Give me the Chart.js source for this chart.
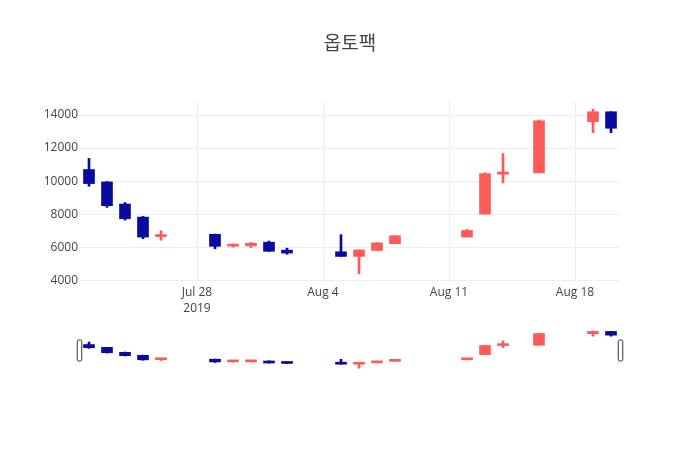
<!DOCTYPE html>
<html><head><meta charset="utf-8">
<script src="https://cdn.jsdelivr.net/npm/chart.js@4.4.0/dist/chart.umd.min.js"></script>
<style>html,body{margin:0;padding:0;background:#fff}#wrap{position:relative;width:700px;height:450px}canvas{position:absolute;left:0;top:0}</style>
</head><body><div id="wrap"><canvas id="main" width="700" height="450"></canvas><canvas id="slider" width="700" height="450"></canvas></div>
<script>
const chartTitle = '옵토팩';
const dates = ['2019-07-22','2019-07-23','2019-07-24','2019-07-25','2019-07-26',
  '2019-07-29','2019-07-30','2019-07-31','2019-08-01','2019-08-02',
  '2019-08-05','2019-08-06','2019-08-07','2019-08-08',
  '2019-08-12','2019-08-13','2019-08-14','2019-08-16','2019-08-19','2019-08-20'];
const opens  = [10700, 9950, 8610, 7820, 6640, 6780, 6060, 6080, 6300, 5820, 5720, 5440, 5800, 6210, 6610, 8000, 10420, 10500, 13600, 14200];
const highs  = [11370, 9970, 8700, 7860, 7000, 6790, 6200, 6280, 6370, 5940, 6760, 5840, 6270, 6700, 7070, 10500, 11670, 13700, 14350, 14200];
const lows   = [9690, 8410, 7640, 6510, 6420, 5900, 6000, 5980, 5740, 5570, 5430, 4390, 5800, 6210, 6610, 8000, 9890, 10500, 12930, 12930];
const closes = [9850, 8510, 7720, 6610, 6730, 6050, 6150, 6240, 5750, 5640, 5440, 5830, 6260, 6690, 7010, 10450, 10550, 13650, 14200, 13200];
const yTicks = [4000, 6000, 8000, 10000, 12000, 14000];
const xTickDates = ['2019-07-28','2019-08-04','2019-08-11','2019-08-18'];
const xTickLabels = [['Jul 28','2019'],['Aug 4'],['Aug 11'],['Aug 18']];
const yMin = 3890, yMax = 14850;

function day(s){ return Date.parse(s + 'T00:00:00Z') / 86400000; }
const xs = dates.map(day);
const colors = opens.map((o,i) => closes[i] >= o ? '#FF5A5A' : '#0A0A9E');
const xMin = xs[0] - 0.5, xMax = xs[xs.length-1] + 0.5;

function makeDatasets(){
  return [
    {data: xs.map((x,i)=>({x:x, y:[opens[i], closes[i]]})), backgroundColor: colors, barThickness: 11, minBarLength: 2, grouped: false, borderWidth: 0},
    {data: xs.map((x,i)=>({x:x, y:[lows[i], highs[i]]})), backgroundColor: colors, barThickness: 2, grouped: false, borderWidth: 0}
  ];
}

new Chart(document.getElementById('main'), {
  type: 'bar',
  data: {datasets: makeDatasets()},
  options: {
    responsive: false, animation: false,
    layout: {padding: {left: 40, right: 40, top: 0, bottom: 0}},
    plugins: {
      legend: {display: false}, tooltip: {enabled: false},
      title: {display: true, text: chartTitle, color: '#444',
        font: {family: "'Noto Sans CJK KR', 'Open Sans', sans-serif", size: 19, weight: 'normal', lineHeight: 1.2},
        padding: {top: 31, bottom: 47.2}}
    },
    scales: {
      x: {type: 'linear', min: xMin, max: xMax, offset: false,
        grid: {offset: false, color: '#eee', drawTicks: false}, border: {display: false},
        afterBuildTicks: s => { s.ticks = xTickDates.map(d => ({value: day(d)})); },
        ticks: {callback: (v,i) => xTickLabels[i], color: '#444', font: {family: "'Open Sans'", size: 12, lineHeight: 1.35}, padding: 2, maxRotation: 0, autoSkip: false},
        afterFit: s => { s.height = 168; }},
      y: {min: yMin, max: yMax, beginAtZero: false,
        grid: {color: '#eee', drawTicks: false}, border: {display: false},
        afterBuildTicks: s => { s.ticks = yTicks.map(v => ({value: v})); },
        ticks: {callback: v => String(v), color: '#444', font: {family: "'Open Sans'", size: 12}, padding: 2},
        afterFit: s => { s.width = 40; }},
      yR: {position: 'right', min: yMin, max: yMax, grid: {display: false}, border: {display: false},
        ticks: {display: false}, afterFit: s => { s.width = 40; }}
    }
  }
});

const handles = {
  id: 'handles',
  afterDraw(chart){
    const ctx = chart.ctx, a = chart.chartArea;
    const cy = (a.top + a.bottom) / 2 + 1, h = 21, w = 4.5;
    ctx.save();
    ctx.fillStyle = '#fff'; ctx.strokeStyle = '#333'; ctx.lineWidth = 1;
    [a.left - 0.5, a.right + 0.5].forEach(cx => {
      ctx.beginPath();
      ctx.roundRect(cx - w/2, cy - h/2, w, h, 1.5);
      ctx.fill(); ctx.stroke();
    });
    ctx.restore();
  }
};

new Chart(document.getElementById('slider'), {
  type: 'bar',
  data: {datasets: makeDatasets()},
  options: {
    responsive: false, animation: false,
    layout: {padding: {left: 80, right: 80, top: 329, bottom: 80}},
    plugins: {legend: {display: false}, tooltip: {enabled: false}},
    scales: {
      x: {type: 'linear', min: xMin, max: xMax, offset: false, display: false, grid: {offset: false}},
      y: {min: yMin, max: yMax, beginAtZero: false, display: false}
    }
  },
  plugins: [handles]
});
</script></body></html>
